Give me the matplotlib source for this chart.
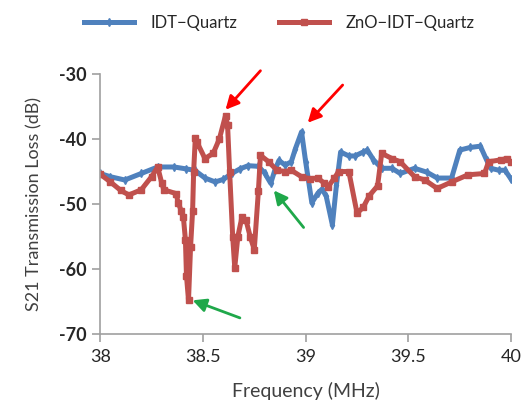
import matplotlib.pyplot as plt

plt.rcParams['font.family'] = ['Lato', 'DejaVu Sans']
plt.rcParams['axes.unicode_minus'] = False

# IDT-Quartz
idt_freq = [38.00, 38.05, 38.12, 38.20, 38.28, 38.36, 38.42, 38.46, 38.51, 38.56,
            38.60, 38.64, 38.68, 38.72, 38.77, 38.80, 38.83, 38.85, 38.87, 38.90,
            38.93, 38.95, 38.98, 39.00, 39.03, 39.06, 39.08, 39.10, 39.13, 39.15,
            39.17, 39.21, 39.24, 39.28, 39.30, 39.33, 39.37, 39.42, 39.46, 39.53,
            39.59, 39.64, 39.71, 39.75, 39.80, 39.85, 39.88, 39.90, 39.94, 39.97,
            40.00]
idt_s21 = [-45.3, -45.8, -46.3, -45.3, -44.3, -44.3, -44.6, -44.8, -46.0, -46.6,
           -46.2, -45.3, -44.6, -44.1, -44.2, -45.2, -46.8, -44.8, -43.3, -44.0,
           -43.5, -41.5, -38.9, -43.5, -49.8, -48.3, -47.7, -48.8, -53.2, -47.0,
           -42.0, -42.6, -42.6, -42.0, -41.7, -43.2, -44.5, -44.5, -45.3, -44.5,
           -45.1, -46.0, -46.0, -41.7, -41.3, -41.1, -43.2, -44.5, -44.8, -44.8,
           -46.2]

# ZnO-IDT-Quartz
zno_freq = [38.00, 38.05, 38.10, 38.14, 38.20, 38.25, 38.28, 38.30, 38.31, 38.37,
            38.38, 38.395, 38.405, 38.415, 38.42, 38.43, 38.44, 38.45, 38.455, 38.463,
            38.47, 38.51, 38.55, 38.58, 38.61, 38.62, 38.63, 38.645, 38.655, 38.67,
            38.69, 38.71, 38.73, 38.75, 38.77, 38.78, 38.82, 38.86, 38.90, 38.93,
            38.98, 39.02, 39.06, 39.09, 39.11, 39.14, 39.16, 39.21, 39.25, 39.28,
            39.31, 39.35, 39.37, 39.42, 39.46, 39.53, 39.58, 39.64, 39.71, 39.79,
            39.87, 39.89, 39.95, 39.98, 40.00]
zno_s21 = [-45.4, -46.6, -47.9, -48.6, -47.8, -45.8, -44.3, -46.8, -47.8, -48.4,
           -49.9, -51.0, -52.0, -55.5, -61.0, -64.8, -56.6, -51.0, -45.0, -39.9,
           -40.4, -43.0, -42.2, -40.0, -36.4, -37.8, -45.0, -55.0, -59.8, -55.0,
           -52.0, -52.5, -55.0, -57.0, -48.0, -42.5, -43.5, -44.8, -45.0, -44.8,
           -45.8, -46.1, -46.0, -46.8, -47.3, -46.0, -45.0, -45.0, -51.4, -50.5,
           -48.7, -47.2, -42.2, -43.0, -43.5, -45.8, -46.3, -47.6, -46.6, -45.5,
           -45.3, -43.5, -43.2, -43.0, -43.5]

x_ticks = [38, 38.5, 39, 39.5, 40]
x_tick_labels = ['38', '38.5', '39', '39.5', '40']
y_ticks = [-70, -60, -50, -40, -30]

blue = '#4F81BD'
red = '#C0504D'

fig = plt.figure(figsize=(5.27, 4.11), dpi=100)
ax = fig.add_axes([0.190, 0.187, 0.780, 0.633])

ax.plot(idt_freq, idt_s21, color=blue, lw=3.6, marker='d', ms=4,
        label='IDT\u2212Quartz')
ax.plot(zno_freq, zno_s21, color=red, lw=3.6, marker='s', ms=4,
        label='ZnO\u2212IDT\u2212Quartz')

ax.set_xlim(38, 40)
ax.set_ylim(-70, -30)
ax.set_xticks(x_ticks)
ax.set_xticklabels(x_tick_labels)
ax.set_yticks(y_ticks)
for s in ['top', 'right']:
    ax.spines[s].set_visible(False)
for s in ['left', 'bottom']:
    ax.spines[s].set_color('#A0A0A0')
    ax.spines[s].set_linewidth(1.2)
ax.tick_params(axis='both', direction='out', length=6, width=1.2,
               color='#A0A0A0', labelsize=13, labelcolor='#262626')
ax.tick_params(axis='x', pad=5)
for lab in ax.get_yticklabels():
    lab.set_fontweight('bold')

ax.set_xlabel('Frequency (MHz)', fontsize=14, color='#404040', labelpad=12)
ax.set_ylabel('S21 Transmission Loss (dB)', fontsize=13, color='#404040',
              labelpad=12)

fig.legend(loc='center', bbox_to_anchor=(0.53, 0.945), ncol=2, frameon=False,
           fontsize=12, handlelength=3.0, handletextpad=1.0, columnspacing=2.5,
           labelcolor='#262626')

# arrows: (tail, head) in data coordinates
arrows = [
    ((38.78, -29.5), (38.61, -35.5), 'red'),
    ((39.18, -31.7), (39.01, -37.5), 'red'),
    ((38.99, -53.6), (38.845, -47.9), '#1FA84A'),
    ((38.68, -67.5), (38.45, -64.8), '#1FA84A'),
]
for tail, head, c in arrows:
    ax.annotate('', xy=head, xytext=tail, annotation_clip=False,
                arrowprops=dict(arrowstyle='-|>,head_length=0.8,head_width=0.4',
                                color=c, lw=2, shrinkA=0, shrinkB=0))

fig.savefig('out.png', dpi=100)
